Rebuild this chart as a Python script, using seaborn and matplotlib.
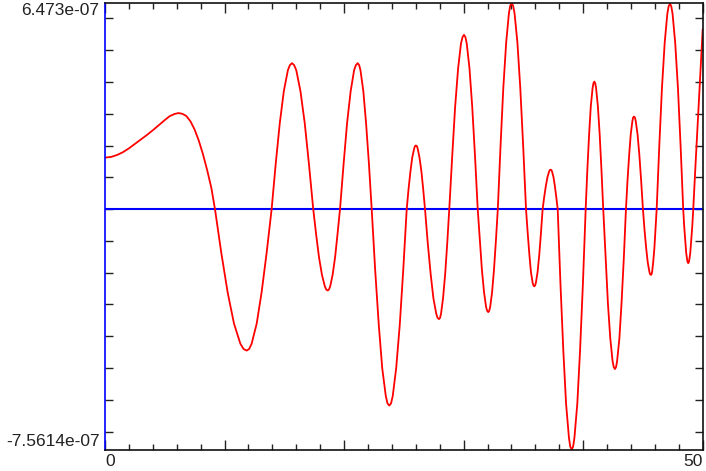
import matplotlib

matplotlib.use("Agg")
import matplotlib.pyplot as plt
import numpy as np
import pandas as pd
import seaborn as sns
from matplotlib.ticker import MultipleLocator

Y_MAX = 6.473e-07
Y_MIN = -7.5614e-07
X_END = 50

# samples (time, amplitude in units of 1e-7)
t = [
    0.00, 0.50, 1.00, 1.50, 2.00, 2.50, 3.00, 3.50, 4.00, 4.50, 5.00, 5.40,
    5.80, 6.13, 6.45, 6.80, 7.15, 7.50, 7.85, 8.20, 8.55, 8.90, 9.20,
    9.73, 10.26, 10.79, 11.32, 11.59, 11.85, 12.06, 12.27, 12.69, 13.10, 13.52, 13.94,
    14.28, 14.62, 14.96, 15.30, 15.47, 15.64, 15.82, 16.00, 16.35, 16.71, 17.06, 17.42,
    17.66, 17.90, 18.15, 18.39, 18.51, 18.63, 18.73, 18.84, 19.04, 19.25, 19.45, 19.66,
    19.96, 20.25, 20.55, 20.84, 20.99, 21.14, 21.26, 21.37, 21.61, 21.84, 22.08, 22.31,
    22.60, 22.90, 23.19, 23.49, 23.63, 23.78, 23.93, 24.07, 24.36, 24.66, 24.95, 25.24,
    25.39, 25.55, 25.70, 25.86, 25.93, 26.01, 26.09, 26.16, 26.31, 26.47, 26.62, 26.77,
    27.00, 27.24, 27.47, 27.71, 27.82, 27.94, 28.03, 28.11, 28.28, 28.46, 28.63, 28.80,
    29.05, 29.29, 29.54, 29.78, 29.91, 30.03, 30.15, 30.26, 30.49, 30.72, 30.95, 31.18,
    31.36, 31.53, 31.71, 31.88, 31.97, 32.06, 32.14, 32.22, 32.38, 32.54, 32.70, 32.86,
    33.09, 33.32, 33.56, 33.79, 33.90, 34.02, 34.14, 34.26, 34.50, 34.74, 34.98, 35.22,
    35.36, 35.50, 35.63, 35.77, 35.84, 35.91, 35.98, 36.05, 36.19, 36.33, 36.47, 36.61,
    36.74, 36.88, 37.01, 37.15, 37.21, 37.28, 37.34, 37.40, 37.52, 37.63, 37.75, 37.87,
    38.10, 38.34, 38.57, 38.81, 38.92, 39.04, 39.16, 39.27, 39.51, 39.74, 39.98, 40.21,
    40.35, 40.50, 40.64, 40.79, 40.86, 40.93, 41.01, 41.08, 41.23, 41.38, 41.53, 41.68,
    41.88, 42.07, 42.27, 42.46, 42.56, 42.66, 42.75, 42.84, 43.03, 43.21, 43.40, 43.58,
    43.71, 43.85, 43.98, 44.12, 44.18, 44.25, 44.33, 44.40, 44.55, 44.70, 44.85, 45.00,
    45.13, 45.27, 45.40, 45.54, 45.60, 45.67, 45.72, 45.77, 45.86, 45.96, 46.05, 46.15,
    46.37, 46.59, 46.82, 47.04, 47.15, 47.26, 47.37, 47.48, 47.70, 47.93, 48.15, 48.37,
    48.45, 48.54, 48.62, 48.71, 48.75, 48.79, 48.83, 48.87, 48.96, 49.04, 49.13, 49.21,
    49.40, 49.60, 49.80, 50.00,
]
amp_e7 = [
    1.62, 1.64, 1.70, 1.79, 1.91, 2.05, 2.19, 2.33, 2.48, 2.64, 2.80, 2.92,
    2.99, 3.02, 3.00, 2.93, 2.76, 2.50, 2.15, 1.72, 1.22, 0.66, 0.00,
    -1.38, -2.62, -3.60, -4.23, -4.40, -4.45, -4.40, -4.23, -3.60, -2.62, -1.38, 0.00,
    1.42, 2.70, 3.71, 4.37, 4.53, 4.59, 4.53, 4.37, 3.71, 2.70, 1.42, 0.00,
    -0.79, -1.51, -2.07, -2.43, -2.53, -2.56, -2.53, -2.43, -2.07, -1.51, -0.79, 0.00,
    1.42, 2.70, 3.71, 4.37, 4.53, 4.59, 4.53, 4.37, 3.71, 2.70, 1.42, 0.00,
    -1.91, -3.63, -5.00, -5.88, -6.11, -6.18, -6.11, -5.88, -5.00, -3.63, -1.91, 0.00,
    0.62, 1.18, 1.62, 1.90, 1.98, 2.00, 1.98, 1.90, 1.62, 1.18, 0.62, 0.00,
    -1.07, -2.03, -2.80, -3.29, -3.42, -3.46, -3.42, -3.29, -2.80, -2.03, -1.07, 0.00,
    1.69, 3.22, 4.43, 5.21, 5.41, 5.48, 5.41, 5.21, 4.43, 3.22, 1.69, 0.00,
    -1.00, -1.91, -2.62, -3.08, -3.20, -3.24, -3.20, -3.08, -2.62, -1.91, -1.00, 0.00,
    2.00, 3.81, 5.24, 6.16, 6.40, 6.473, 6.40, 6.16, 5.24, 3.81, 2.00, 0.00,
    -0.75, -1.43, -1.97, -2.31, -2.40, -2.43, -2.40, -2.31, -1.97, -1.43, -0.75, 0.00,
    0.38, 0.73, 1.00, 1.18, 1.23, 1.24, 1.23, 1.18, 1.00, 0.73, 0.38, 0.00,
    -2.34, -4.45, -6.12, -7.19, -7.47, -7.5614, -7.47, -7.19, -6.12, -4.45, -2.34, 0.00,
    1.24, 2.36, 3.24, 3.81, 3.96, 4.01, 3.96, 3.81, 3.24, 2.36, 1.24, 0.00,
    -1.55, -2.96, -4.07, -4.78, -4.97, -5.03, -4.97, -4.78, -4.07, -2.96, -1.55, 0.00,
    0.90, 1.71, 2.35, 2.77, 2.88, 2.91, 2.88, 2.77, 2.35, 1.71, 0.90, 0.00,
    -0.64, -1.22, -1.67, -1.97, -2.05, -2.07, -2.05, -1.97, -1.67, -1.22, -0.64, 0.00,
    2.00, 3.80, 5.23, 6.14, 6.38, 6.46, 6.38, 6.14, 5.23, 3.80, 2.00, 0.00,
    -0.53, -1.00, -1.38, -1.62, -1.68, -1.70, -1.68, -1.62, -1.38, -1.00, -0.53, 0.00,
    1.40, 2.80, 4.20, 5.66,
]

x_tick_labels = ["0", "", "", "", "", "50"]
y_tick_labels = ["-7.5614e-07", "6.473e-07"]


def main() -> None:
    sns.set_theme(style="white")
    plt.rcParams["font.family"] = ["Liberation Sans", "DejaVu Sans"]

    df = pd.DataFrame({"t": t, "value": np.array(amp_e7) * 1e-7})

    fig = plt.figure(figsize=(7.06, 4.71), dpi=100)
    ax = fig.add_axes([105 / 706, 1 - 449.5 / 471, 597.7 / 706, 446.2 / 471])

    ax.axhline(0, color="#0000ff", lw=1.5, zorder=1)
    sns.lineplot(data=df, x="t", y="value", color="#ff0000", lw=1.3,
                 sort=False, ax=ax, zorder=2, solid_joinstyle="round")
    ax.set_xlabel("")
    ax.set_ylabel("")
    ax.set_xlim(0, X_END)
    ax.set_ylim(Y_MIN, Y_MAX)

    for side, spine in ax.spines.items():
        spine.set_visible(True)
        spine.set_linewidth(1.2)
        spine.set_color("#0000ff" if side == "left" else "#111111")

    # x: labelled ends, long ticks every 10, short every 2
    ax.set_xticks(np.linspace(0, X_END, len(x_tick_labels)))
    ax.set_xticklabels(x_tick_labels)
    xl = ax.get_xticklabels()
    xl[0].set_ha("left")
    xl[-1].set_ha("right")
    ax.xaxis.set_minor_locator(MultipleLocator(2))
    ax.tick_params(axis="x", which="both", direction="in", top=True, bottom=True,
                   color="#222222", width=1.0, labelsize=12.5, pad=3,
                   labelcolor="#222222")
    ax.tick_params(axis="x", which="major", length=7)
    ax.tick_params(axis="x", which="minor", length=4.5)

    # y: only the range limits are labelled
    ax.set_yticks([Y_MIN, Y_MAX])
    ax.set_yticklabels(y_tick_labels)
    yl = ax.get_yticklabels()
    yl[0].set_va("bottom")
    yl[1].set_va("top")
    ax.yaxis.set_minor_locator(MultipleLocator(1e-7))
    ax.tick_params(axis="y", which="major", length=0, pad=4, labelsize=12.5,
                   labelcolor="#222222")
    ax.tick_params(axis="y", which="minor", direction="in", left=True, right=True,
                   length=6, width=1.0, color="#222222")

    fig.savefig("out.png", dpi=100, facecolor="white")


if __name__ == "__main__":
    main()
